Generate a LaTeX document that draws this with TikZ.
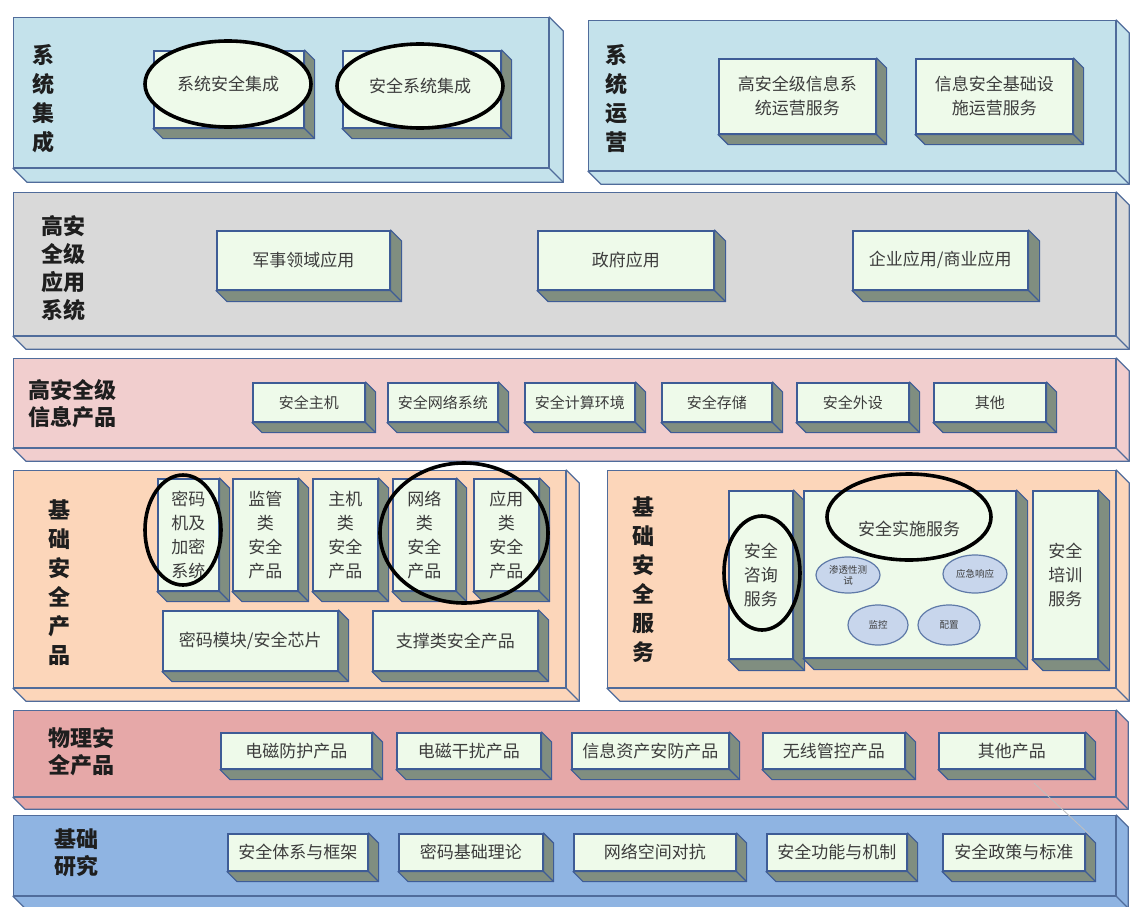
\documentclass[tikz,border=0pt]{standalone}
\usepackage{fontspec}
\setmainfont{Noto Sans CJK SC}
\usetikzlibrary{calc,shapes.geometric}
\definecolor{pedge}{RGB}{80,108,155}
\definecolor{cedge}{RGB}{62,92,150}
\definecolor{cfill}{RGB}{238,250,234}
\definecolor{cshade}{RGB}{128,142,128}
\definecolor{sysblue}{RGB}{196,226,235}
\definecolor{appgray}{RGB}{217,217,217}
\definecolor{prodpink}{RGB}{241,206,206}
\definecolor{peach}{RGB}{252,214,186}
\definecolor{rose}{RGB}{230,168,168}
\definecolor{resblue}{RGB}{143,180,226}
\definecolor{bubfill}{RGB}{200,214,236}
\definecolor{bubedge}{RGB}{95,122,168}
\definecolor{ctext}{RGB}{60,60,60}
\definecolor{ltext}{RGB}{30,30,30}
\tikzset{
  slabbox/.style={draw=pedge, line width=1.3pt, anchor=north west, inner sep=0pt},
  cellbox/.style={draw=cedge, fill=cfill, line width=1.6pt, anchor=north west, inner sep=0pt,
    align=center, text=ctext, font=\fontsize{17}{24}\selectfont},
  lab/.style={align=center, text=ltext, font=\fontsize{22}{29}\selectfont\bfseries},
  ring/.style={ellipse, draw=black, line width=3.6pt, inner sep=0pt, align=center,
    text=ctext, font=\fontsize{17}{24}\selectfont},
  bubble/.style={ellipse, draw=bubedge, fill=bubfill, line width=1.2pt, inner sep=0pt,
    align=center, text=ctext, font=\fontsize{9.5}{11}\selectfont},
  celltxt/.style={text=ctext, font=\fontsize{17}{24}\selectfont},
}
% extrusion of a box node: name, depth, fill, edge colour, width
\newcommand\extr[5]{%
  \filldraw[fill=#3, draw=#4, line width=#5, line join=round]
    (#1.north east) -- ++(#2,#2) -- ($(#1.south east)+(#2,#2)$) -- ($(#1.south west)+(#2,#2)$)
    -- (#1.south west) -- (#1.south east) -- cycle;
  \draw[#4, line width=#5] (#1.south east) -- ++(#2,#2);
}
% panel: name, x1, y1, x2, y2, fill, depth
\newcommand\slab[7]{%
  \node[slabbox, fill=#6, minimum width={(#4-#2)*1pt}, minimum height={(#5-#3)*1pt}] (#1) at (#2,#3) {};
  \extr{#1}{#7}{#6}{pedge}{1.3pt}%
}
% cell: name, x1, y1, x2, y2, text, depth, extra style
\newcommand\cellat[8]{%
  \node[cellbox, minimum width={(#4-#2)*1pt}, minimum height={(#5-#3)*1pt}, #8] (#1) at (#2,#3) {#6};
  \extr{#1}{#7}{cshade}{cedge}{1.2pt}%
}
\begin{document}
\begin{tikzpicture}[x=1pt,y=-1pt]
\useasboundingbox (0,0) rectangle (1130,907);
\fill[white] (0,0) rectangle (1130,907);

% ---------- panels ----------
\slab{p1}{13}{17}{548}{167}{sysblue}{14}
\slab{p2}{588}{20}{1115}{170}{sysblue}{13}
\slab{p3}{13}{192}{1115}{335}{appgray}{13}
\slab{p4}{13}{358}{1115}{447}{prodpink}{13}
\slab{p5}{13}{470}{565}{687}{peach}{13}
\slab{p6}{607}{470}{1115}{687}{peach}{13}
\slab{p7}{13}{710}{1115}{796}{rose}{12}
\slab{p8}{13}{815}{1115}{895}{resblue}{12}

% ---------- panel labels ----------
\node[lab] (l1) at (43,99) {系\\统\\集\\成};
\node[lab] (l2) at (616,99) {系\\统\\运\\营};
\node[lab, font=\fontsize{22}{28}\selectfont\bfseries] (l3) at (63,268) {高安\\全级\\应用\\系统};
\node[lab, font=\fontsize{22}{27}\selectfont\bfseries] (l4) at (72,404) {高安全级\\信息产品};
\node[lab] (l5) at (59,583) {基\\础\\安\\全\\产\\品};
\node[lab] (l6) at (643,580) {基\\础\\安\\全\\服\\务};
\node[lab, font=\fontsize{22}{27}\selectfont\bfseries] (l7) at (81,752) {物理安\\全产品};
\node[lab, font=\fontsize{22}{27}\selectfont\bfseries] (l8) at (76,853) {基础\\研究};

% ---------- system integration ----------
\cellat{c11}{153}{50}{303}{127}{}{10}{}
\cellat{c12}{342}{50}{500}{127}{}{10}{}
\node[ring, fill=cfill, minimum width=166pt, minimum height=86pt] (e1) at (228,84) {系统安全集成};
\node[ring, fill=cfill, minimum width=166pt, minimum height=84pt] (e2) at (420,86) {安全系统集成};

% ---------- system operation ----------
\cellat{c21}{718}{58}{875}{133}{高安全级信息系\\统运营服务}{10}{}
\cellat{c22}{915}{58}{1072}{133}{信息安全基础设\\施运营服务}{10}{}

% ---------- application systems ----------
\cellat{c31}{216}{230}{389}{289}{军事领域应用}{11}{}
\cellat{c32}{537}{230}{713}{289}{政府应用}{11}{}
\cellat{c33}{852}{230}{1027}{289}{企业应用/商业应用}{11}{}

% ---------- information products ----------
\cellat{c41}{252}{382}{364}{421}{安全主机}{10}{font=\fontsize{15}{18}\selectfont}
\cellat{c42}{387}{382}{497}{421}{安全网络系统}{10}{font=\fontsize{15}{18}\selectfont}
\cellat{c43}{524}{382}{634}{421}{安全计算环境}{10}{font=\fontsize{15}{18}\selectfont}
\cellat{c44}{661}{382}{771}{421}{安全存储}{10}{font=\fontsize{15}{18}\selectfont}
\cellat{c45}{796}{382}{908}{421}{安全外设}{10}{font=\fontsize{15}{18}\selectfont}
\cellat{c46}{933}{382}{1045}{421}{其他}{10}{font=\fontsize{15}{18}\selectfont}

% ---------- basic security products ----------
\cellat{c51}{157}{478}{218}{590}{密码\\机及\\加密\\系统}{10}{}
\cellat{c52}{232}{478}{297}{590}{监管\\类\\安全\\产品}{10}{}
\cellat{c53}{312}{478}{377}{590}{主机\\类\\安全\\产品}{10}{}
\cellat{c54}{392}{478}{455}{590}{网络\\类\\安全\\产品}{10}{}
\cellat{c55}{473}{478}{538}{590}{应用\\类\\安全\\产品}{10}{}
\cellat{c56}{162}{610}{337}{670}{密码模块/安全芯片}{10}{}
\cellat{c57}{372}{610}{537}{670}{支撑类安全产品}{10}{}
\node[ring, minimum width=76pt, minimum height=110pt] (e3) at (183,530) {};
\node[ring, minimum width=168pt, minimum height=140pt] (e4) at (464,533) {};

% ---------- basic security services ----------
\cellat{c61}{728}{490}{792}{658}{安全\\咨询\\服务}{11}{}
\cellat{c62}{803}{490}{1015}{657}{}{11}{}
\cellat{c63}{1032}{490}{1097}{658}{安全\\培训\\服务}{11}{}
\node[ring, minimum width=76pt, minimum height=114pt] (e5) at (762,573) {};
\node[ring, minimum width=164pt, minimum height=86pt] (e6) at (909,517) {};
\node[celltxt] (t62) at (909,529) {安全实施服务};
\node[bubble, minimum width=64pt, minimum height=36pt] (b1) at (848,575) {渗透性测\\试};
\node[bubble, minimum width=64pt, minimum height=38pt] (b2) at (975,574) {应急响应};
\node[bubble, minimum width=60pt, minimum height=40pt] (b3) at (878,625) {监控};
\node[bubble, minimum width=62pt, minimum height=40pt] (b4) at (949,625) {配置};

% ---------- physical security products ----------
\cellat{c71}{220}{732}{371}{768}{电磁防护产品}{10}{}
\cellat{c72}{396}{732}{540}{768}{电磁干扰产品}{10}{}
\cellat{c73}{571}{732}{728}{768}{信息资产安防产品}{10}{}
\cellat{c74}{762}{732}{904}{768}{无线管控产品}{10}{}
\cellat{c75}{938}{732}{1084}{768}{其他产品}{10}{}

% ---------- basic research ----------
\cellat{c81}{227}{833}{367}{870}{安全体系与框架}{10}{}
\cellat{c82}{398}{833}{542}{870}{密码基础理论}{10}{}
\cellat{c83}{573}{833}{735}{870}{网络空间对抗}{10}{}
\cellat{c84}{766}{833}{906}{870}{安全功能与机制}{10}{}
\cellat{c85}{942}{833}{1084}{870}{安全政策与标准}{10}{}

% faint stray line
\coordinate (s1) at (1034,783);
\coordinate (s2) at (1090,835);
\draw[black!25, line width=0.8pt] (s1) -- (s2);
\end{tikzpicture}
\end{document}
